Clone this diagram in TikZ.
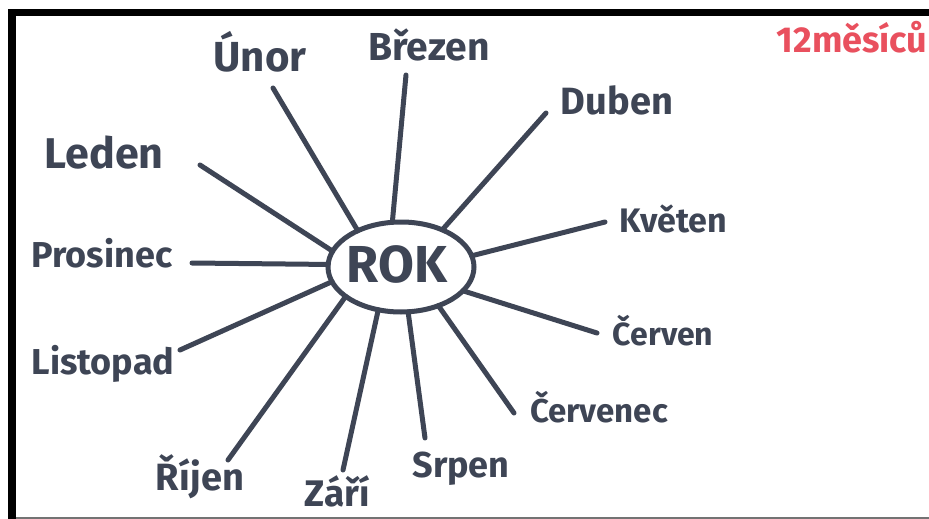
\documentclass[tikz,border=0pt]{standalone}
\usepackage{fontspec}
\setmainfont{Fira Sans}
\usetikzlibrary{shapes.geometric}
\definecolor{ink}{HTML}{3E4555}
\definecolor{redink}{HTML}{E9505E}
\tikzset{
  month/.style={anchor=base, inner sep=0pt, text=ink, font=\bfseries\fontsize{#1}{#1}\selectfont},
  spoke/.style={draw=ink, line width=5pt, line cap=round},
}
\begin{document}
\begin{tikzpicture}[x=1pt,y=-1pt]
\useasboundingbox (0,0) rectangle (929,519);
\fill[white] (0,0) rectangle (929,519);
% frame
\fill[black] (8,9) rectangle (929,16);
\fill[black] (8,9) rectangle (16,519);
\fill[black!55] (16,517) rectangle (929,519);

% centre
\node[ellipse, draw=ink, line width=5pt, minimum width=146pt, minimum height=90pt, inner sep=0pt, outer sep=0pt] (rok) at (401,267) {};
\node[month=52] (rokt) at (397,282) {ROK};

% labels
\node[month=43] (leden) at (104,168) {Leden};
\node[month=36] (prosinec) at (102,267) {Prosinec};
\node[month=36] (listopad) at (103,374) {Listopad};
\node[month=42] (unor) at (260,72) {Únor};
\node[month=39] (brezen) at (429,60) {Březen};
\node[month=38] (duben) at (617,114) {Duben};
\node[month=34] (kveten) at (673,232) {Květen};
\node[month=32] (cerven) at (663,345) {Červen};
\node[month=33] (cervenec) at (599,422) {Červenec};
\node[month=36] (srpen) at (461,477) {Srpen};
\node[month=37] (zari) at (337,506) {Září};
\node[month=38] (rijen) at (200,490) {Říjen};
\node[month=36, text=redink] (mesicu) at (852,53) {12měsíců};

% outer ends of spokes
\coordinate (eLeden) at (200,165);
\coordinate (eProsinec) at (192,263);
\coordinate (eListopad) at (180,350);
\coordinate (eRijen) at (228,460);
\coordinate (eZari) at (343,470);
\coordinate (eSrpen) at (425,438);
\coordinate (eCervenec) at (514,413);
\coordinate (eCerven) at (597,333);
\coordinate (eKveten) at (605,222);
\coordinate (eDuben) at (546,113);
\coordinate (eBrezen) at (406,75);
\coordinate (eUnor) at (273,88);

% spokes
\draw[spoke] (rok.167) -- (eLeden);
\draw[spoke] (rok.178.5) -- (eProsinec);
\draw[spoke] (rok.192) -- (eListopad);
\draw[spoke] (rok.208) -- (eRijen);
\draw[spoke] (rok.242) -- (eZari);
\draw[spoke] (rok.279) -- (eSrpen);
\draw[spoke] (rok.314) -- (eCervenec);
\draw[spoke] (rok.339.5) -- (eCerven);
\draw[spoke] (rok.9.6) -- (eKveten);
\draw[spoke] (rok.42.4) -- (eDuben);
\draw[spoke] (rok.101) -- (eBrezen);
\draw[spoke] (rok.140) -- (eUnor);
\end{tikzpicture}
\end{document}
